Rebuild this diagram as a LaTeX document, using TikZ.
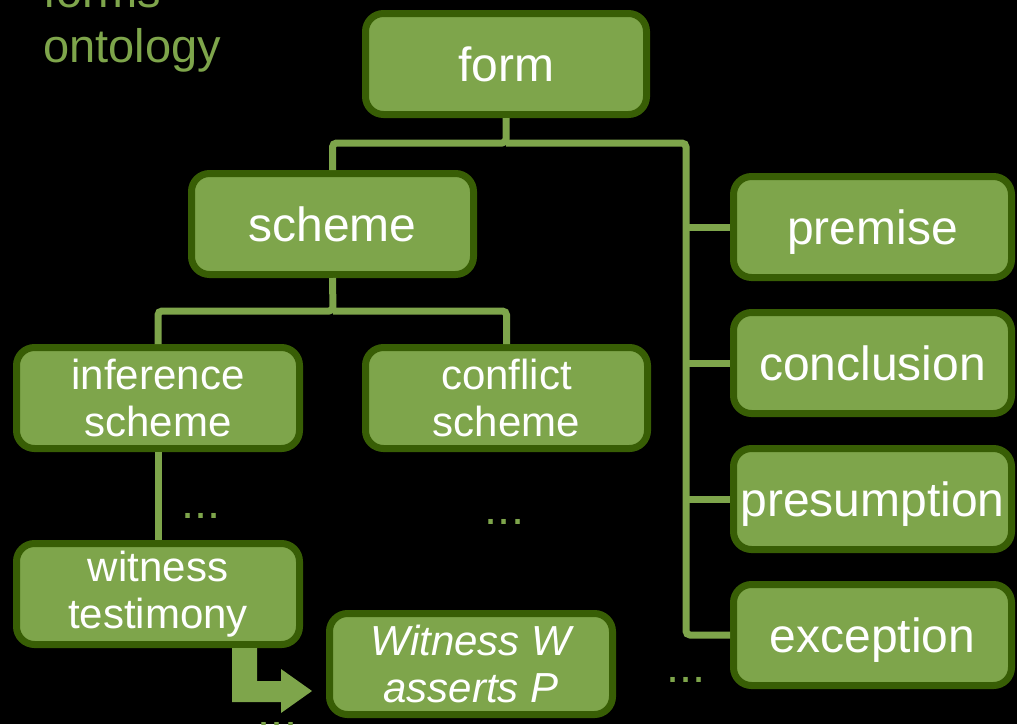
\documentclass[tikz,border=0pt]{standalone}
\usepackage{fontspec}
\setmainfont{Liberation Sans}
\usetikzlibrary{calc}
\definecolor{leaf}{HTML}{7EA54B}
\definecolor{bark}{HTML}{385E05}
\tikzset{
  box/.style={draw=bark, fill=leaf, line width=7pt, rounded corners=18pt,
    minimum width=281pt, minimum height=101pt, inner sep=0pt,
    text=white, align=center},
  bigtext/.style={font=\fontsize{48}{55}\selectfont, text height=34.5pt, text depth=0pt},
  smalltext/.style={font=\fontsize{42}{47}\selectfont},
  link/.style={draw=leaf, line width=7pt, rounded corners=4pt},
  dots/.style={text=leaf, font=\fontsize{47}{55}\selectfont, anchor=base, inner sep=0pt},
  caption/.style={text=leaf, font=\fontsize{47}{55}\selectfont, anchor=base west, inner sep=0pt}
}
\begin{document}
\begin{tikzpicture}[x=1pt,y=-1pt]
\fill[black] (0,0) rectangle (1017,724);
\useasboundingbox (0,0) rectangle (1017,724);

% heading
\node[caption] (cap1) at (43,7) {forms};
\node[caption] (cap2) at (43,62) {ontology};

% boxes
\node[box,bigtext] (form) at (506,64) {form};
\node[box,bigtext,minimum width=282pt] (scheme) at (332.5,224) {scheme};
\node[box,smalltext,minimum width=283pt] (inference) at (158,398) {inference\\scheme};
\node[box,smalltext,minimum width=282pt] (conflict) at (506.5,398) {conflict\\scheme};
\node[box,smalltext,minimum width=283pt] (witness) at (158,594) {witness\\testimony};
\node[box,smalltext,minimum width=283pt,font=\fontsize{42}{47}\selectfont\itshape] (assert) at (471,664) {Witness W\\asserts P};
\node[box,bigtext,minimum width=278pt] (premise) at (872.5,227) {premise};
\node[box,bigtext,minimum width=278pt] (conclusion) at (872.5,363) {conclusion};
\node[box,bigtext,minimum width=278pt] (presumption) at (872.5,499) {presumption};
\node[box,bigtext,minimum width=278pt] (exception) at (872.5,635) {exception};

% tree connectors
\coordinate (fj) at (506,143);
\coordinate (rb) at (686,143);
\coordinate (sj) at (333,311);
\draw[link] (form.south) -- (fj) -| (scheme.north);
\draw[link] (fj) -- (rb) |- (exception.west);
\draw[link] (rb |- premise.west) -- (premise.west);
\draw[link] (rb |- conclusion.west) -- (conclusion.west);
\draw[link] (rb |- presumption.west) -- (presumption.west);
\draw[link] (scheme.south) -- (sj) -| (inference.north);
\draw[link] (sj) -| (conflict.north);
\draw[link] (inference.south) -- (witness.north);

% block arrow from the scheme to its instance
\fill[leaf] ($(witness.south east)+(-71,0)$) -- ++(25,0) -- ++(0,33) -- ++(24,0)
  -- ++(0,-12) -- ++(31,22) -- ++(-31,22) -- ++(0,-11) -- ++(-49,0) -- cycle;

% ellipses
\node[dots] (d1) at (201,518) {...};
\node[dots] (d2) at (504.5,524) {...};
\node[dots] (d3) at (686,682) {...};
\node[dots] (d4) at (277.5,727) {...};
\end{tikzpicture}
\end{document}
